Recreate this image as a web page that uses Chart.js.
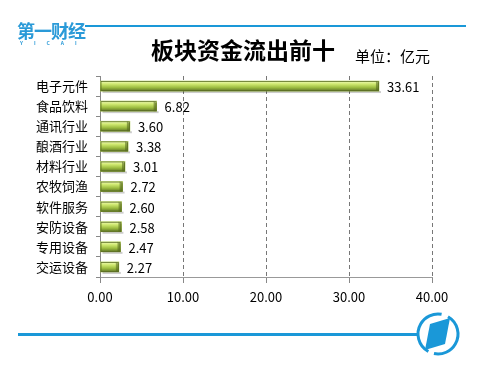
<!DOCTYPE html>
<html>
<head>
<meta charset="utf-8">
<script src="https://cdn.jsdelivr.net/npm/chart.js@4.4.0/dist/chart.umd.min.js"></script>
<style>
  html, body { margin: 0; padding: 0; background: #fff; }
  #wrap { position: relative; width: 492px; height: 373px; overflow: hidden; font-family: "Noto Sans CJK SC", "Noto Sans", sans-serif; }
  #chart { position: absolute; left: 0; top: 0; }
  .topline { position: absolute; left: 85px; top: 25px; width: 381px; height: 2px; background: #1a98d8; }
  .botline { position: absolute; left: 18px; top: 333px; width: 400px; height: 3px; background: #1a98d8; }
  .logo { position: absolute; left: 17px; top: 20px; color: #2a9ad8; font-weight: bold; font-size: 18px; line-height: 20px; letter-spacing: -1px; }
  .logo small { display: block; font-size: 5px; line-height: 6px; letter-spacing: 11px; padding-left: 3px; font-weight: bold; }
  .title { position: absolute; left: 0; width: 486px; top: 32px; text-align: center; font-size: 23px; font-weight: bold; color: #000; }
  .unit { position: absolute; left: 355px; top: 45px; font-size: 15px; color: #000; }
  svg.mark { position: absolute; left: 414px; top: 310px; }
</style>
</head>
<body>
<div id="wrap">
  <canvas id="chart" width="492" height="373"></canvas>
  <div class="topline"></div>
  <div class="botline"></div>
  <div class="logo">第一财经<small>YICAI</small></div>
  <div class="title">板块资金流出前十</div>
  <div class="unit">单位：亿元</div>
  <svg class="mark" width="48" height="48" viewBox="0 0 48 48">
    <circle cx="24" cy="24" r="20" fill="none" stroke="#1a98d8" stroke-width="3" stroke-dasharray="56 6 56 8" transform="rotate(-60 24 24)"/>
    <polygon points="16,14 36,8 31,34 11,40" fill="#1a98d8"/>
  </svg>
</div>
<script>
const categories = ['电子元件', '食品饮料', '通讯行业', '酿酒行业', '材料行业', '农牧饲渔', '软件服务', '安防设备', '专用设备', '交运设备'];
const outflow = [33.61, 6.82, 3.60, 3.38, 3.01, 2.72, 2.60, 2.58, 2.47, 2.27];
const xTicks = [0, 10, 20, 30, 40];

const ctx = document.getElementById('chart').getContext('2d');

// paint the 3d-ish gradient over each bar the library laid out
const barLook = {
    id: 'barLook',
    afterDatasetsDraw(chart) {
        const c = chart.ctx;
        const meta = chart.getDatasetMeta(0);
        c.save();
        meta.data.forEach(bar => {
            const h = bar.height;
            const top = bar.y - h / 2;
            const left = bar.base;
            const w = bar.x - bar.base;
            // shadow
            c.fillStyle = 'rgba(0,0,0,0.2)';
            c.fillRect(left + 2, top + h, w, 2);
            const g = c.createLinearGradient(0, top, 0, top + h);
            g.addColorStop(0, '#f0fbb8');
            g.addColorStop(0.3, '#cfe870');
            g.addColorStop(0.65, '#9cbc40');
            g.addColorStop(1, '#5f7428');
            c.fillStyle = g;
            c.fillRect(left, top, w, h);
            // bevelled end cap
            c.fillStyle = 'rgba(80,100,30,0.55)';
            c.beginPath();
            c.moveTo(left + w - 3, top);
            c.lineTo(left + w, top + 2);
            c.lineTo(left + w, top + h);
            c.lineTo(left + w - 3, top + h);
            c.closePath();
            c.fill();
            c.strokeStyle = '#5b6e24';
            c.lineWidth = 0.8;
            c.strokeRect(left + 0.5, top + 0.5, w - 1, h - 1);
        });
        c.font = '13px "Noto Sans CJK SC", "Noto Sans", sans-serif';
        c.fillStyle = '#000';
        c.textBaseline = 'middle';
        meta.data.forEach((bar, i) => {
            c.fillText(outflow[i].toFixed(2), bar.x + 8, bar.y + 1);
        });
        c.restore();
    }
};

new Chart(ctx, {
    type: 'bar',
    data: {
        labels: categories,
        datasets: [{
            data: outflow,
            backgroundColor: '#a8c84a',
            borderWidth: 0,
            barThickness: 10,
        }]
    },
    options: {
        indexAxis: 'y',
        responsive: false,
        animation: false,
        layout: { padding: { top: 76, right: 60, left: 0, bottom: 0 } },
        plugins: {
            legend: { display: false },
            tooltip: { enabled: false },
        },
        scales: {
            x: {
                min: 0,
                max: 40,
                afterBuildTicks(scale) { scale.ticks = xTicks.map(v => ({ value: v })); },
                afterFit(scale) { scale.height = 96; },
                grid: {
                    color: '#777',
                    tickColor: '#888',
                    tickLength: 6,
                    drawTicks: true,
                },
                border: { display: true, color: '#999', dash: [4, 3] },
                ticks: {
                    color: '#000',
                    padding: 6,
                    font: { family: '"Noto Sans CJK SC", "Noto Sans", sans-serif', size: 13 },
                    callback: v => Number(v).toFixed(2),
                }
            },
            y: {
                afterFit(scale) { scale.width = 100; },
                offset: true,
                grid: {
                    offset: true,
                    drawOnChartArea: false,
                    drawTicks: true,
                    tickLength: 4,
                    color: '#888',
                },
                border: { display: true, color: '#888' },
                ticks: {
                    color: '#000',
                    padding: 8,
                    font: { family: '"Noto Sans CJK SC", "Noto Sans", sans-serif', size: 13 },
                }
            }
        }
    },
    plugins: [barLook]
});
</script>
</body>
</html>
